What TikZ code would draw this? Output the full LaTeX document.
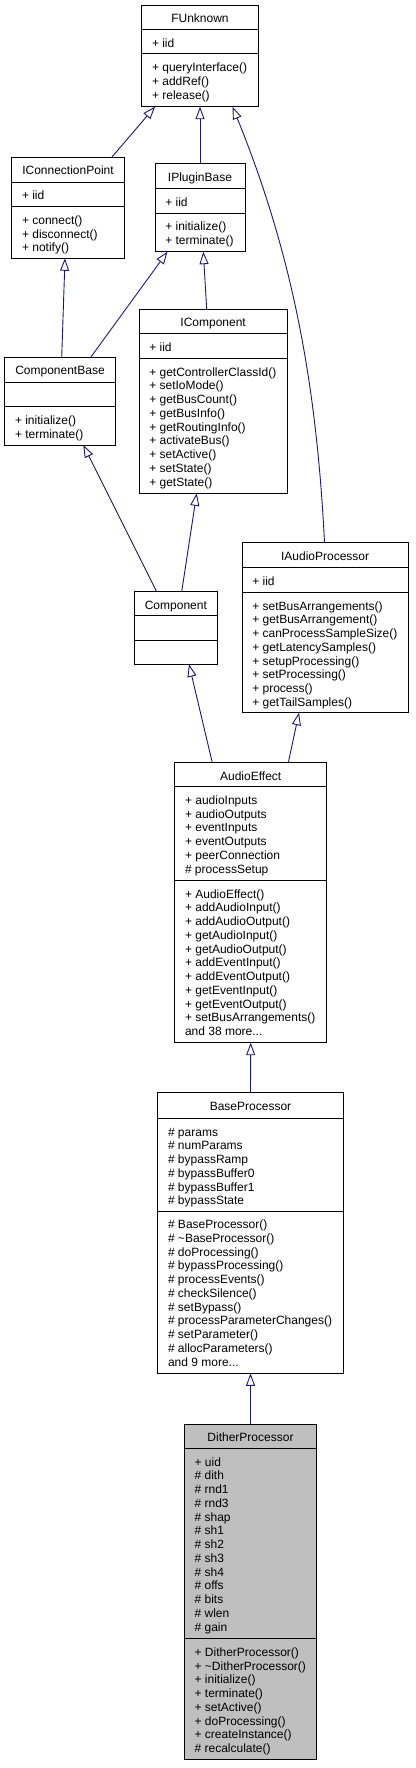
\documentclass[tikz,border=0pt]{standalone}
\usepackage{fontspec}
\setmainfont{Liberation Sans}
\usetikzlibrary{arrows.meta}
\definecolor{edgeblue}{HTML}{191970}
\definecolor{dpfill}{HTML}{BFBFBF}
\tikzset{
  box/.style={draw=black,line width=1pt,outer sep=0pt,inner sep=0pt},
  sepline/.style={draw=black,line width=1pt},
  txt/.style={inner sep=0pt,outer sep=0pt,font=\fontsize{12}{13.75}\selectfont},
  inh/.style={draw=edgeblue,line width=0.9pt,-{Triangle[open,length=12.5pt,width=9pt]}},
}
\newcommand{\cbox}[9]{%
  \node[box,fill=#8,anchor=north west,minimum width={#4-#2},minimum height={#5-#3}] (#1) at (#2,#3) {};
  \draw[sepline] (#1.west |- 0,#6) -- (#1.east |- 0,#6);
  \draw[sepline] (#1.west |- 0,#7) -- (#1.east |- 0,#7);
  \node[txt,anchor=base] (#1-title) at ({(#2+#4)/2},{#3+17.6}) {#9};
}
\newcommand{\txtlines}[4]{%
  \foreach \lbl [count=\i from 0] in {#4} {\node[txt,anchor=base west] (#1-\i) at ({#2+10.3},{#3+17.7+\i*13.75}) {\lbl};}%
}
\begin{document}
\begin{tikzpicture}[x=1pt,y=-1pt]
\useasboundingbox (0,0) rectangle (415,1768);

\cbox{FUnknown}{141.7}{5.3}{258.3}{106.7}{30}{54}{white}{FUnknown}
\txtlines{FUnknown-a}{141.7}{30}{+ iid}
\txtlines{FUnknown-m}{141.7}{54}{+ queryInterface(),+ addRef(),+ release()}

\cbox{ICP}{11.7}{157.3}{124.3}{258.3}{182.3}{206.7}{white}{IConnectionPoint}
\txtlines{ICP-a}{11.7}{182.3}{+ iid}
\txtlines{ICP-m}{11.7}{206.7}{+ connect(),+ disconnect(),+ notify()}

\cbox{IPB}{155}{164}{245}{251.7}{189}{213.3}{white}{IPluginBase}
\txtlines{IPB-a}{155}{189}{+ iid}
\txtlines{IPB-m}{155}{213.3}{+ initialize(),+ terminate()}

\cbox{IComp}{139}{309.3}{287.3}{493.3}{333.3}{358.3}{white}{IComponent}
\txtlines{IComp-a}{139}{333.3}{+ iid}
\txtlines{IComp-m}{139}{358.3}{+ getControllerClassId(),+ setIoMode(),+ getBusCount(),+ getBusInfo(),+ getRoutingInfo(),+ activateBus(),+ setActive(),+ setState(),+ getState()}

\cbox{CB}{4.7}{357.3}{115.3}{445}{382}{406.7}{white}{ComponentBase}
\txtlines{CB-m}{4.7}{406.7}{+ initialize(),+ terminate()}

\cbox{IAP}{242}{542.7}{408.3}{712.7}{567.3}{592.3}{white}{IAudioProcessor}
\txtlines{IAP-a}{242}{567.3}{+ iid}
\txtlines{IAP-m}{242}{592.3}{+ setBusArrangements(),+ getBusArrangement(),+ canProcessSampleSize(),+ getLatencySamples(),+ setupProcessing(),+ setProcessing(),+ process(),+ getTailSamples()}

\cbox{Comp}{134}{591.7}{217.7}{664.3}{615.7}{640.3}{white}{Component}

\cbox{AE}{174.7}{762.7}{326.7}{1042.7}{786.7}{880.3}{white}{AudioEffect}
\txtlines{AE-a}{174.7}{786.7}{+ audioInputs,+ audioOutputs,+ eventInputs,+ eventOutputs,+ peerConnection,\# processSetup}
\txtlines{AE-m}{174.7}{880.3}{+ AudioEffect(),+ addAudioInput(),+ addAudioOutput(),+ getAudioInput(),+ getAudioOutput(),+ addEventInput(),+ addEventOutput(),+ getEventInput(),+ getEventOutput(),+ setBusArrangements(),and 38 more.\kern0pt.\kern0pt.}

\cbox{BP}{157.7}{1092.7}{343.3}{1373.3}{1118.3}{1211}{white}{BaseProcessor}
\txtlines{BP-a}{157.7}{1118.3}{\# params,\# numParams,\# bypassRamp,\# bypassBuffer0,\# bypassBuffer1,\# bypassState}
\txtlines{BP-m}{157.7}{1211}{\# BaseProcessor(),\# \textasciitilde BaseProcessor(),\# doProcessing(),\# bypassProcessing(),\# processEvents(),\# checkSilence(),\# setBypass(),\# processParameterChanges(),\# setParameter(),\# allocParameters(),and 9 more.\kern0pt.\kern0pt.}

\cbox{DP}{184.3}{1424}{316.7}{1759.3}{1448.3}{1638.7}{dpfill}{DitherProcessor}
\txtlines{DP-a}{184.3}{1448.3}{+ uid,\# dith,\# rnd1,\# rnd3,\# shap,\# sh1,\# sh2,\# sh3,\# sh4,\# offs,\# bits,\# wlen,\# gain}
\txtlines{DP-m}{184.3}{1638.7}{+ DitherProcessor(),+ \textasciitilde DitherProcessor(),+ initialize(),+ terminate(),+ setActive(),+ doProcessing(),+ createInstance(),\# recalculate()}

\draw[inh] ([xshift=100pt]ICP.north west) -- ([xshift=13.3pt]FUnknown.south west);
\draw[inh] (IPB.north) -- (FUnknown.south);
\draw[inh] ([xshift=82.5pt]IAP.north west) .. controls (317,392.7) and (295,260) .. ([xshift=90.8pt]FUnknown.south west);
\draw[inh] ([xshift=57pt]CB.north west) -- ([xshift=53.3pt]ICP.south west);
\draw[inh] ([xshift=86pt]CB.north west) -- ([xshift=12.5pt]IPB.south west);
\draw[inh] ([xshift=67.7pt]IComp.north west) -- ([xshift=48.3pt]IPB.south west);
\draw[inh] ([xshift=22.7pt]Comp.north west) -- ([xshift=78.6pt]CB.south west);
\draw[inh] ([xshift=47.7pt]Comp.north west) -- ([xshift=57.7pt]IComp.south west);
\draw[inh] ([xshift=37.6pt]AE.north west) -- ([xshift=55pt]Comp.south west);
\draw[inh] ([xshift=113.6pt]AE.north west) -- ([xshift=57pt]IAP.south west);
\draw[inh] (BP.north) -- (AE.south);
\draw[inh] (DP.north) -- (BP.south);
\end{tikzpicture}
\end{document}
